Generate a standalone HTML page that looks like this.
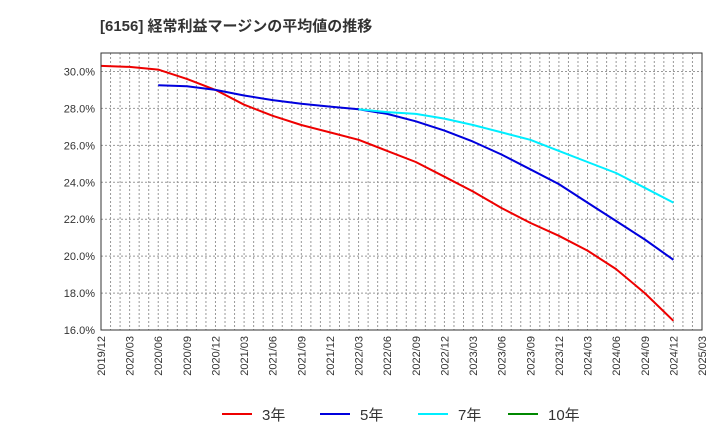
<!DOCTYPE html>
<html><head><meta charset="utf-8"><style>
body{margin:0;background:#fff;}
svg{display:block;font-family:"Liberation Sans","Noto Sans CJK JP",sans-serif;}
</style></head><body>
<svg id="chart" width="720" height="440" viewBox="0 0 720 440" xmlns="http://www.w3.org/2000/svg">
<text x="100" y="31" font-size="15" font-weight="bold" fill="#333">[6156]  経常利益マージンの平均値の推移</text>
<g id="grid"></g>
<g id="axes"></g>
<g id="series"></g>
<rect x="101" y="53" width="601" height="277" fill="none" stroke="#333" stroke-width="1"/>
<g id="legend"></g>
</svg>
<script>
const xLabels=["2019/12","2020/03","2020/06","2020/09","2020/12","2021/03","2021/06","2021/09","2021/12","2022/03","2022/06","2022/09","2022/12","2023/03","2023/06","2023/09","2023/12","2024/03","2024/06","2024/09","2024/12","2025/03"];
const yTicks=[16,18,20,22,24,26,28,30];
const s3=[30.3,30.25,30.1,29.6,29.0,28.2,27.6,27.1,26.7,26.3,25.7,25.1,24.3,23.5,22.6,21.8,21.1,20.3,19.3,18.0,16.5];
const s5=[null,null,29.25,29.2,29.0,28.7,28.45,28.25,28.1,27.95,27.7,27.3,26.8,26.2,25.5,24.7,23.9,22.9,21.9,20.9,19.8];
const s7=[null,null,null,null,null,null,null,null,null,27.95,27.8,27.7,27.45,27.1,26.7,26.3,25.7,25.1,24.5,23.7,22.9];
const s10=[];
const names=["3年","5年","7年","10年"];
const colors=["#ee0000","#0000dd","#00eeff","#008800"];
const NS="http://www.w3.org/2000/svg";
const L=101,R=702,T=53,B=330;
const xq=i=>L+(R-L)*i/(xLabels.length-1);
const yv=v=>B-(v-16)*(B-T)/15;
function mk(tag,attrs,parent){const e=document.createElementNS(NS,tag);for(const k in attrs)e.setAttribute(k,attrs[k]);document.getElementById(parent).appendChild(e);return e;}
for(let m=1;m<(xLabels.length-1)*3;m++){
 const x=L+(R-L)*m/((xLabels.length-1)*3);
 const g=mk("line",{x1:x,x2:x,y1:T,y2:B,stroke:"#999","stroke-dasharray":"2,2","stroke-width":1},"grid");
 
 
}
yTicks.forEach(v=>{
 const y=yv(v);
 const g=mk("line",{x1:L,x2:R,y1:y,y2:y,stroke:"#999","stroke-dasharray":"2,2","stroke-width":1},"grid");
 
 
 const t=mk("text",{x:L-6,y:y+4,"text-anchor":"end","font-size":11,fill:"#333"},"axes");
 t.textContent=v.toFixed(1)+"%";
 
 
});
xLabels.forEach((lb,i)=>{
 const x=xq(i);
 const t=mk("text",{x:x+4,y:B+6,"text-anchor":"end","font-size":11,fill:"#333",transform:`rotate(-90 ${x+4} ${B+6})`},"axes");
 t.textContent=lb;
 
 
});
[s3,s5,s7,s10].forEach((s,k)=>{
 const pts=[];s.forEach((v,i)=>{if(v!=null)pts.push(xq(i).toFixed(1)+","+yv(v).toFixed(1));});
 if(pts.length<2)return;
 const p=mk("polyline",{points:pts.join(" "),fill:"none",stroke:colors[k],"stroke-width":2,"stroke-linejoin":"round"},"series");
 
 
});
const lx=[222,320,418,508];
names.forEach((n,k)=>{
 const l=mk("line",{x1:lx[k],x2:lx[k]+30,y1:414,y2:414,stroke:colors[k],"stroke-width":2},"legend");
 
 
 const t=mk("text",{x:lx[k]+40,y:420,"font-size":15,fill:"#333"},"legend");
 t.textContent=n;
 
 
});
</script>
</body></html>
